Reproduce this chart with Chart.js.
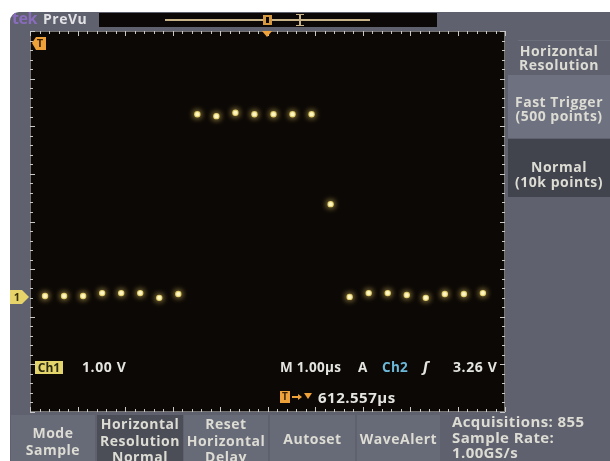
<!DOCTYPE html>
<html>
<head>
<meta charset="utf-8">
<title>PreVu - Ch1 acquisition</title>
<script src="https://cdn.jsdelivr.net/npm/chart.js@4.4.1/dist/chart.umd.min.js"></script>
<style>
  html, body { margin: 0; padding: 0; background: #fff; width: 610px; height: 461px; overflow: hidden; }
  body { position: relative; font-family: "Open Sans", "DejaVu Sans", sans-serif; font-weight: 700; }
  #scope { position: absolute; left: 0; top: 0; }
  .t { position: absolute; white-space: nowrap; color: #dcdcd4; font-size: 14px; letter-spacing: 0.5px; pointer-events: none; }
  .c { text-align: center; }
  .scr { color: #e4e4e0; font-size: 13.5px; letter-spacing: 0.3px; line-height: 16px; }
</style>
</head>
<body>
<canvas id="scope" width="610" height="461"></canvas>

<!-- top strip -->
<div class="t" style="left:12px;top:9px;font-size:16px;line-height:18px;color:#8a6cbc;letter-spacing:-0.5px;">tek</div>
<div class="t" style="left:43px;top:11px;font-size:14px;line-height:16px;color:#e2e2e6;">PreVu</div>

<!-- right side menu -->
<div class="t c" style="left:508px;top:44px;width:102px;line-height:14px;">Horizontal<br>Resolution</div>
<div class="t c" style="left:508px;top:95px;width:102px;line-height:14px;">Fast Trigger<br>(500 points)</div>
<div class="t c" style="left:508px;top:159px;width:102px;line-height:15px;">Normal<br>(10k points)</div>

<!-- bottom soft keys -->
<div class="t c" style="left:11px;top:424px;width:84px;line-height:17px;">Mode<br>Sample</div>
<div class="t c" style="left:97px;top:416px;width:86px;line-height:16.5px;">Horizontal<br>Resolution<br>Normal</div>
<div class="t c" style="left:184px;top:416px;width:84px;line-height:16.5px;">Reset<br>Horizontal<br>Delay</div>
<div class="t c" style="left:270px;top:431px;width:85px;line-height:16px;">Autoset</div>
<div class="t c" style="left:357px;top:431px;width:83px;line-height:16px;">WaveAlert</div>
<div class="t" style="left:452px;top:414px;font-size:15px;letter-spacing:0.4px;line-height:15.5px;">Acquisitions: 855<br>Sample Rate:<br>1.00GS/s</div>

<!-- readouts on the screen -->
<div class="t scr" style="left:35px;top:361px;width:28px;height:13px;line-height:13px;background:#e3d46c;color:#2b2a12;font-size:12px;letter-spacing:0;text-align:center;">Ch1</div>
<div class="t scr" style="left:82px;top:359px;font-size:14px;letter-spacing:0.6px;">1.00 V</div>
<div class="t scr" style="left:280px;top:359px;">M 1.00µs</div>
<div class="t scr" style="left:358px;top:359px;">A</div>
<div class="t scr" style="left:382px;top:359px;color:#6cb8d8;">Ch2</div>
<div class="t scr" style="left:423px;top:359px;font-family:'DejaVu Sans';font-style:italic;">ʃ</div>
<div class="t scr" style="left:453px;top:359px;font-size:14px;letter-spacing:0.6px;">3.26 V</div>
<div class="t scr" style="left:318px;top:388px;font-size:15px;letter-spacing:0.5px;line-height:18px;">612.557µs</div>

<script>
// Ch1 record: sample index at 1.00 GS/s (1 ns per sample) and measured level in volts
const sampleTimesNs = [0, 1, 2, 3, 4, 5, 6, 7, 8, 9, 10, 11, 12, 13, 14, 15, 16, 17, 18, 19, 20, 21, 22, 23];
const ch1Volts = [0.02, 0.02, 0.02, 0.08, 0.08, 0.08, -0.02, 0.06,
                  3.84, 3.80, 3.87, 3.84, 3.84, 3.84, 3.84,
                  1.95,
                  0.00, 0.08, 0.08, 0.04, -0.02, 0.06, 0.06, 0.08];
// visible window of the display
const timeWindowNs = [-0.79, 24.16];
const voltWindow = [-2.42, 5.59];
const triggerTimeNs = 11.66;
const groundLevelV = 0;
const horizontalDivs = 10;
const verticalDivs = 8;

const points = sampleTimesNs.map((t, i) => ({ x: t, y: ch1Volts[i] }));

// instrument bezel, menu panels and soft-key frames
const bezelPlugin = {
  id: 'bezel',
  beforeDraw(chart) {
    const ctx = chart.ctx, a = chart.chartArea;
    ctx.save();
    ctx.fillStyle = '#ffffff';
    ctx.fillRect(0, 0, chart.width, chart.height);
    ctx.fillStyle = '#5f626e';
    ctx.beginPath();
    ctx.roundRect(10, 12, 640, 480, [9, 0, 0, 0]);
    ctx.fill();

    // PreVu record bar
    ctx.fillStyle = '#0b0807';
    ctx.fillRect(99, 13, 338, 14);
    ctx.fillStyle = '#c9b48a';
    ctx.fillRect(165, 19, 205, 2);
    ctx.fillStyle = '#d89a40';
    ctx.fillRect(263, 15, 9, 10);
    ctx.fillStyle = '#0b0807';
    ctx.fillRect(266, 17, 3, 6);
    ctx.fillStyle = '#c9b48a';
    ctx.fillRect(299, 14, 2, 12);
    ctx.fillRect(296, 14, 8, 1);
    ctx.fillRect(296, 25, 8, 1);

    // screen
    ctx.fillStyle = '#0c0806';
    ctx.fillRect(a.left, a.top, a.width, a.height);

    // side menu
    ctx.fillStyle = '#6a6d7a';
    ctx.fillRect(518, 40, 92, 1);
    ctx.fillStyle = '#6e717f';
    ctx.fillRect(508, 75, 102, 63);
    ctx.fillStyle = '#41434d';
    ctx.fillRect(508, 139, 102, 58);

    // soft keys
    const keys = [[11, 84, '#676a77'], [97, 86, '#4b4d57'], [184, 84, '#676a77'], [270, 85, '#676a77'], [357, 83, '#676a77']];
    keys.forEach(([x, w, c]) => { ctx.fillStyle = c; ctx.fillRect(x, 415, w, 50); });
    ctx.restore();
  },
  beforeDatasetsDraw(chart) {
    const ctx = chart.ctx, a = chart.chartArea;
    ctx.save();
    // graticule edge ticks
    ctx.strokeStyle = 'rgba(205,205,205,0.55)';
    ctx.lineWidth = 1;
    ctx.strokeRect(a.left + 0.5, a.top + 0.5, a.width - 1, a.height - 1);
    ctx.fillStyle = '#c8c8c8';
    const nx = horizontalDivs * 5, ny = verticalDivs * 5;
    for (let i = 0; i <= nx; i++) {
      const x = Math.round(a.left + i * a.width / nx);
      const len = i % 5 === 0 ? 5 : 3;
      ctx.fillRect(x, a.top, 1, len);
      ctx.fillRect(x, a.bottom - len, 1, len);
    }
    for (let j = 0; j <= ny; j++) {
      const y = Math.round(a.top + j * a.height / ny);
      const len = j % 5 === 0 ? 5 : 3;
      ctx.fillRect(a.left, y, len, 1);
      ctx.fillRect(a.right - len, y, len, 1);
    }
    ctx.restore();
  },
  afterDraw(chart) {
    const ctx = chart.ctx, a = chart.chartArea;
    const xs = chart.scales.x, ys = chart.scales.y;
    ctx.save();
    // trigger position arrow on top edge
    const tx = xs.getPixelForValue(triggerTimeNs);
    ctx.fillStyle = '#f0a23a';
    ctx.beginPath();
    ctx.moveTo(tx - 5, a.top);
    ctx.lineTo(tx + 5, a.top);
    ctx.lineTo(tx, a.top + 6);
    ctx.closePath();
    ctx.fill();

    // trigger point indicator at the upper left of the screen
    ctx.beginPath();
    ctx.moveTo(32, 43);
    ctx.lineTo(36, 37);
    ctx.lineTo(46, 37);
    ctx.lineTo(46, 50);
    ctx.lineTo(36, 50);
    ctx.closePath();
    ctx.fill();
    ctx.fillStyle = '#3a2205';
    ctx.font = 'bold 11px "Open Sans", sans-serif';
    ctx.textAlign = 'center';
    ctx.textBaseline = 'middle';
    ctx.fillText('T', 40, 44);

    // channel 1 ground reference marker
    const gy = ys.getPixelForValue(groundLevelV);
    ctx.fillStyle = '#e6d46a';
    ctx.beginPath();
    ctx.moveTo(10, gy - 7);
    ctx.lineTo(22, gy - 7);
    ctx.lineTo(29, gy);
    ctx.lineTo(22, gy + 7);
    ctx.lineTo(10, gy + 7);
    ctx.closePath();
    ctx.fill();
    ctx.fillStyle = '#3a3208';
    ctx.fillText('1', 17, gy + 1);

    // trigger-to-center delay marker
    ctx.fillStyle = '#f0a23a';
    ctx.fillRect(280, 391, 10, 12);
    ctx.fillStyle = '#3a2205';
    ctx.font = 'bold 10px "Open Sans", sans-serif';
    ctx.fillText('T', 285, 397);
    ctx.fillStyle = '#f0a23a';
    ctx.fillRect(292, 396, 6, 2);
    ctx.beginPath();
    ctx.moveTo(298, 394); ctx.lineTo(302, 397); ctx.lineTo(298, 400);
    ctx.closePath(); ctx.fill();
    ctx.beginPath();
    ctx.moveTo(304, 393); ctx.lineTo(312, 393); ctx.lineTo(308, 399);
    ctx.closePath(); ctx.fill();
    ctx.restore();
  },
  beforeDatasetDraw(chart) {
    chart.ctx.shadowColor = 'rgba(255,225,110,0.9)';
    chart.ctx.shadowBlur = 6;
  },
  afterDatasetDraw(chart) {
    chart.ctx.shadowColor = 'rgba(0,0,0,0)';
    chart.ctx.shadowBlur = 0;
  }
};

new Chart(document.getElementById('scope'), {
  type: 'scatter',
  data: {
    datasets: [{
      label: 'Ch1',
      data: points,
      showLine: false,
      pointRadius: 2.6,
      pointBackgroundColor: '#fffbd8',
      pointBorderColor: 'rgba(235,215,110,0.85)',
      pointBorderWidth: 1.2
    }]
  },
  options: {
    responsive: false,
    animation: false,
    devicePixelRatio: 1,
    layout: { padding: { left: 30, top: 31, right: 105, bottom: 49 } },
    plugins: { legend: { display: false }, tooltip: { enabled: false } },
    scales: {
      x: { type: 'linear', min: timeWindowNs[0], max: timeWindowNs[1], display: false },
      y: { type: 'linear', min: voltWindow[0], max: voltWindow[1], display: false }
    }
  },
  plugins: [bezelPlugin]
});
</script>
</body>
</html>
